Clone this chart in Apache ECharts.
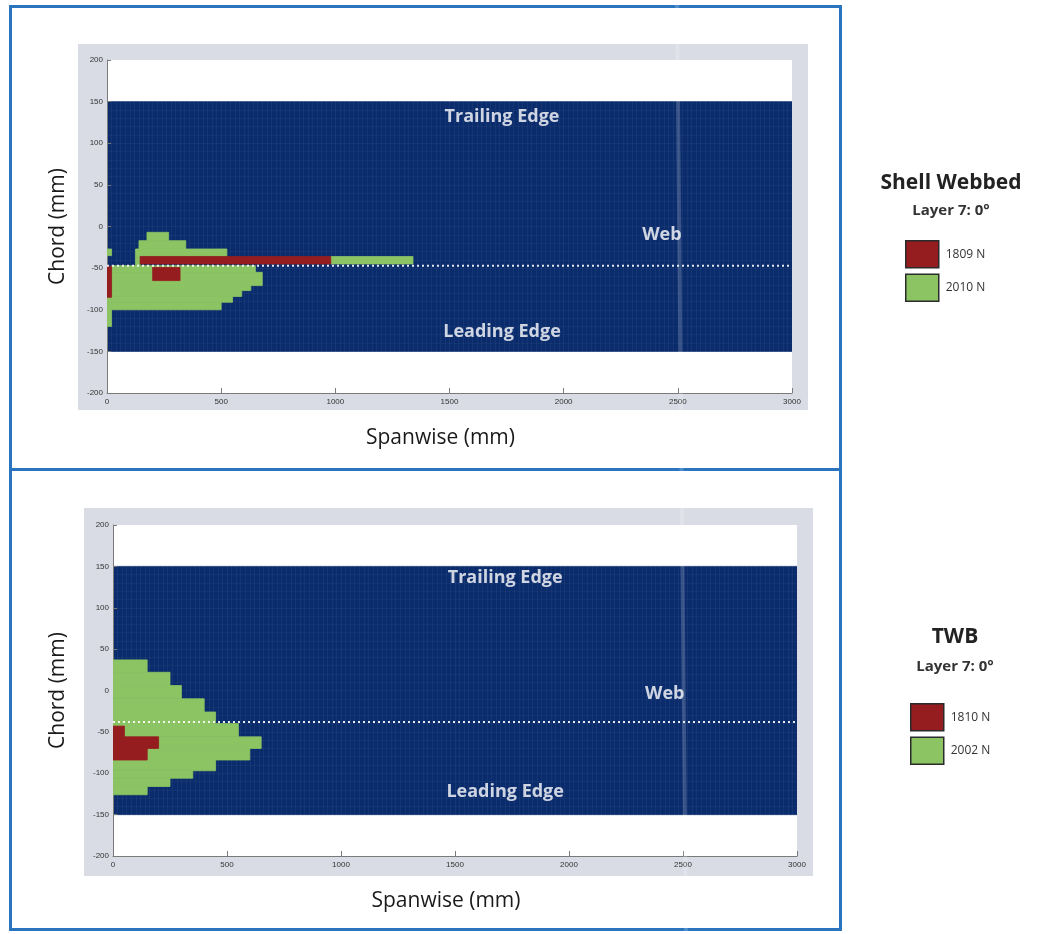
<!DOCTYPE html>
<html>
<head>
<meta charset="utf-8">
<title>Damage maps – Layer 7</title>
<script src="https://cdn.jsdelivr.net/npm/echarts@6/dist/echarts.min.js"></script>
<style>
  html, body { margin: 0; padding: 0; background: #ffffff; }
  #chart { width: 1040px; height: 934px; }
</style>
</head>
<body>
<div id="chart"></div>
<script>
// Axis ranges and ticks (mm)
const spanMin = 0, spanMax = 3000, spanStep = 500;
const chordMin = -200, chordMax = 200, chordStep = 50;

// Laminate footprint, shared by both panels: [x0, x1, y0, y1]
const laminate = [[0, 3000, -150, 150]];

// Shell Webbed panel: failed cells as [x0, x1, y0, y1] (mm)
const shellGreen = [
  [0, 20, -35, -27],
  [0, 20, -120, -85],
  [175, 270, -17, -7],
  [140, 345, -27, -17],
  [125, 525, -37, -27],
  [125, 145, -47, -37],
  [980, 1340, -45, -36],
  [20, 650, -55, -47],
  [20, 680, -71, -55],
  [20, 630, -77, -71],
  [20, 590, -84, -77],
  [20, 550, -91, -84],
  [20, 500, -100, -91]
];
const shellRed = [
  [0, 20, -85, -48],
  [145, 980, -45, -36],
  [200, 320, -65, -49]
];
const shellWeb = -47;

// TWB panel: failed cells as [x0, x1, y0, y1] (mm)
const twbGreen = [
  [0, 150, 22, 37],
  [0, 250, 6, 22],
  [0, 300, -10, 6],
  [0, 400, -26, -10],
  [0, 450, -40, -26],
  [0, 550, -56, -40],
  [0, 650, -70, -56],
  [0, 600, -84, -70],
  [0, 450, -97, -84],
  [0, 350, -106, -97],
  [0, 250, -116, -106],
  [0, 150, -126, -116]
];
const twbRed = [
  [0, 50, -56, -43],
  [0, 200, -70, -56],
  [0, 150, -84, -70]
];
const twbWeb = -38;

// Region annotations [x, y, text]
const shellNotes = [[1730, 132, 'Trailing Edge'], [2430, -10, 'Web'], [1730, -127, 'Leading Edge']];
const twbNotes = [[1720, 136, 'Trailing Edge'], [2420, -4, 'Web'], [1720, -122, 'Leading Edge']];

// Legend entries
const shellLegend = ['1809 N', '2010 N'];
const twbLegend = ['1810 N', '2002 N'];

const BLUE = '#0b2c6c';
const GREEN = '#8cc463';
const RED = '#951d1f';
const FRAME = '#d9dce5';
const BORDER = '#2a74c0';
const FONT = 'Open Sans';

function rectItem(params, api) {
  const a = api.coord([api.value(0), api.value(3)]);
  const b = api.coord([api.value(1), api.value(2)]);
  const c = api.visual('color');
  return {
    type: 'rect',
    shape: { x: a[0], y: a[1], width: b[0] - a[0], height: b[1] - a[1] },
    style: { fill: c, stroke: c, lineWidth: 0.8 }
  };
}

function cells(name, data, color, idx, z) {
  return {
    type: 'custom', name: name, xAxisIndex: idx, yAxisIndex: idx,
    renderItem: rectItem, data: data, z: z, clip: true,
    encode: { x: [0, 1], y: [2, 3] },
    itemStyle: { color: color }, silent: true
  };
}

function webLine(y, idx) {
  return {
    type: 'line', xAxisIndex: idx, yAxisIndex: idx, z: 4, silent: true,
    data: [[spanMin, y], [spanMax, y]], symbol: 'none',
    lineStyle: { color: '#ffffff', width: 2, type: [2, 3], opacity: 0.9 }
  };
}

function notes(list, idx) {
  return {
    type: 'scatter', xAxisIndex: idx, yAxisIndex: idx, z: 5, silent: true,
    symbolSize: 0,
    data: list.map(n => ({ value: [n[0], n[1]], name: n[2] })),
    label: {
      show: true, position: 'inside', formatter: p => p.name,
      color: '#ffffff', fontFamily: FONT, fontWeight: 'bold', fontSize: 18
    }
  };
}

function xAxisFor(idx, gap) {
  return {
    type: 'value', gridIndex: idx, min: spanMin, max: spanMax, interval: spanStep, z: 2,
    name: 'Spanwise (mm)', nameLocation: 'middle', nameGap: gap,
    nameTextStyle: { fontFamily: FONT, fontSize: 21, color: '#1a1a1a', padding: [0, 18, 0, 0] },
    axisLine: { onZero: false, lineStyle: { color: '#7a7a7a', width: 1 } },
    axisTick: { inside: true, length: 5, lineStyle: { color: '#7a7a7a' } },
    axisLabel: { fontSize: 8, color: '#333', fontFamily: 'Liberation Sans', margin: 5, formatter: v => String(v) },
    splitLine: { show: true, lineStyle: { color: 'rgba(255,255,255,0.05)', width: 1 } },
    minorTick: { show: false, splitNumber: 25 },
    minorSplitLine: { show: true, lineStyle: { color: 'rgba(255,255,255,0.045)', width: 1 } }
  };
}

function yAxisFor(idx, gap) {
  return {
    type: 'value', gridIndex: idx, min: chordMin, max: chordMax, interval: chordStep, z: 2,
    name: 'Chord (mm)', nameLocation: 'middle', nameGap: gap, nameRotate: 90,
    nameTextStyle: { fontFamily: FONT, fontSize: 21, color: '#1a1a1a' },
    axisLine: { show: true, onZero: false, lineStyle: { color: '#7a7a7a', width: 1 } },
    axisTick: { show: true, inside: true, length: 4, lineStyle: { color: '#7a7a7a' } },
    axisLabel: { fontSize: 8, color: '#333', fontFamily: 'Liberation Sans', margin: 4, formatter: v => String(v) },
    splitLine: { show: true, lineStyle: { color: 'rgba(255,255,255,0.04)', width: 1 } },
    minorTick: { show: false, splitNumber: 5 },
    minorSplitLine: { show: true, lineStyle: { color: 'rgba(255,255,255,0.03)', width: 1 } }
  };
}

function legendFor(names, left, top) {
  return {
    orient: 'vertical', left: left, top: top, icon: 'rect',
    itemWidth: 33, itemHeight: 27, itemGap: 5,
    data: names.map(n => ({ name: n, itemStyle: { borderColor: '#2b2b2b', borderWidth: 1.5 } })),
    textStyle: { fontFamily: FONT, fontSize: 12, color: '#333', padding: [0, 0, 0, 2] },
    selectedMode: false
  };
}

function titleFor(text, cx, top, gap) {
  return {
    text: text, subtext: 'Layer 7: 0°', left: cx, top: top, textAlign: 'center', itemGap: gap,
    textStyle: { fontFamily: FONT, fontWeight: 'bold', fontSize: 21, color: '#222' },
    subtextStyle: { fontFamily: FONT, fontWeight: 'bold', fontSize: 15, color: '#333' }
  };
}

const chart = echarts.init(document.getElementById('chart'), null, { renderer: 'canvas' });

chart.setOption({
  backgroundColor: '#ffffff',
  animation: false,
  title: [titleFor('Shell Webbed', 946, 168, 9), titleFor('TWB', 950, 622, 11)],
  legend: [legendFor(shellLegend, 900, 235), legendFor(twbLegend, 905, 698)],
  graphic: [
    // panel frames
    { type: 'rect', z: -10, shape: { x: 78, y: 44, width: 730, height: 366 }, style: { fill: FRAME } },
    { type: 'rect', z: -9, shape: { x: 107, y: 60, width: 685, height: 333 }, style: { fill: '#ffffff' } },
    { type: 'rect', z: -10, shape: { x: 84, y: 508, width: 729, height: 368 }, style: { fill: FRAME } },
    { type: 'rect', z: -9, shape: { x: 113, y: 525, width: 684, height: 331 }, style: { fill: '#ffffff' } },
    // outer box and divider
    { type: 'rect', z: 10, shape: { x: 10.5, y: 6.5, width: 830, height: 923 }, style: { fill: null, stroke: BORDER, lineWidth: 3 } },
    { type: 'line', z: 10, shape: { x1: 10, y1: 469.5, x2: 841, y2: 469.5 }, style: { stroke: BORDER, lineWidth: 3 } },
    // pale vertical streak crossing the sheet
    { type: 'polygon', z: 20, silent: true,
      shape: { points: [[675, 0], [679, 0], [688, 934], [684, 934]] },
      style: { fill: 'rgba(255,255,255,0.18)' } }
  ],
  grid: [
    { left: 107, top: 60, width: 685, height: 333, containLabel: false },
    { left: 113, top: 525, width: 684, height: 331, containLabel: false }
  ],
  xAxis: [xAxisFor(0, 35), xAxisFor(1, 35)],
  yAxis: [yAxisFor(0, 38), yAxisFor(1, 44)],
  series: [
    cells('laminate-top', laminate, BLUE, 0, 1),
    cells(shellLegend[1], shellGreen, GREEN, 0, 3),
    cells(shellLegend[0], shellRed, RED, 0, 3.5),
    webLine(shellWeb, 0),
    notes(shellNotes, 0),

    cells('laminate-bottom', laminate, BLUE, 1, 1),
    cells(twbLegend[1], twbGreen, GREEN, 1, 3),
    cells(twbLegend[0], twbRed, RED, 1, 3.5),
    webLine(twbWeb, 1),
    notes(twbNotes, 1)
  ]
});
</script>
</body>
</html>
